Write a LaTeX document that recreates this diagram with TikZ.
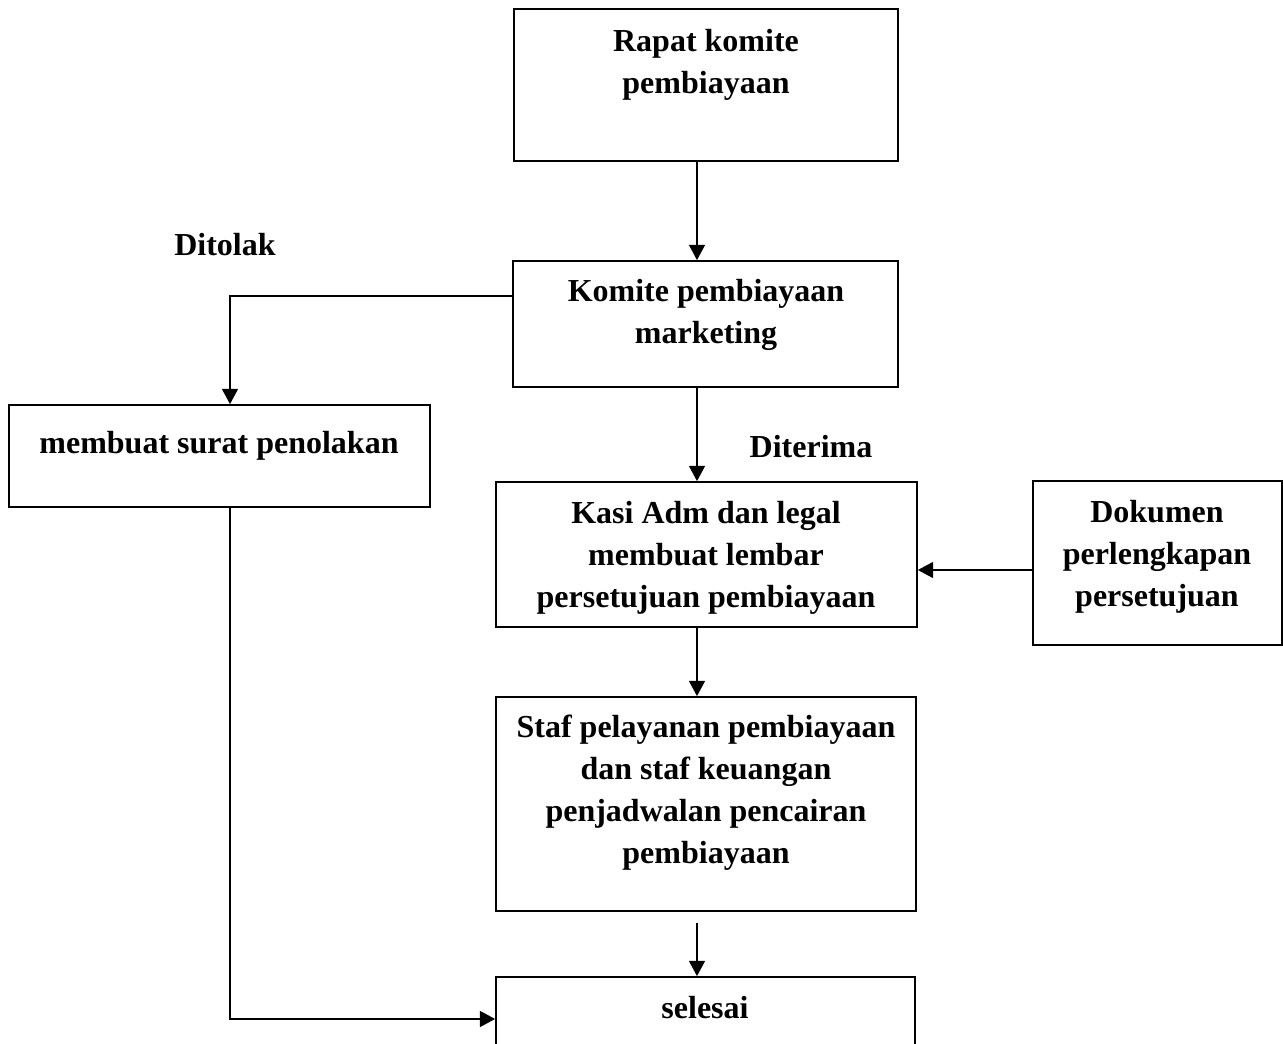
\documentclass[tikz,border=0pt]{standalone}
\usepackage{fontspec}
\setmainfont{Liberation Serif}
\usetikzlibrary{fit,arrows.meta}
\begin{document}
\begin{tikzpicture}[x=0.75pt,y=-0.75pt,
  box/.style={draw,line width=1.3pt,inner sep=0pt,rectangle},
  txt/.style={anchor=north,inner sep=0pt,align=center,
    font=\fontsize{24}{31.5}\selectfont\bfseries},
  arr/.style={line width=1.3pt,-{Triangle[length=11.5pt,width=12pt]}},
  ln/.style={line width=1.3pt}]
\useasboundingbox (0,0) rectangle (1283,1044);

% boxes
\node[box,fit={(514,9) (898,161)}] (rapat) {};
\node[box,fit={(513,261) (898,387)}] (komite) {};
\node[box,fit={(9,405) (430,507)}] (tolak) {};
\node[box,fit={(496,482) (917,627)}] (kasi) {};
\node[box,fit={(1033,481) (1282,645)}] (dok) {};
\node[box,fit={(496,697) (916,911)}] (staf) {};
\node[box,fit={(496,977) (915,1060)}] (selesai) {};

% box texts
\node[txt] (trapat) at (706,29) {Rapat komite\\pembiayaan};
\node[txt] (tkomite) at (706,279) {Komite pembiayaan\\marketing};
\node[txt] (ttolak) at (219,431) {membuat surat penolakan};
\node[txt] (tkasi) at (706,501) {Kasi Adm dan legal\\membuat lembar\\persetujuan pembiayaan};
\node[txt] (tdok) at (1157,500) {Dokumen\\perlengkapan\\persetujuan};
\node[txt] (tstaf) at (706,715) {Staf pelayanan pembiayaan\\dan staf keuangan\\penjadwalan pencairan\\pembiayaan};
\node[txt] (tselesai) at (705,996) {selesai};

% branch labels
\node[txt] (lditolak) at (225,233) {Ditolak};
\node[txt] (lditerima) at (811,435) {Diterima};

% routing guides
\coordinate (spine) at (697,0);
\coordinate (rej) at (230,296);
\coordinate (docy) at (0,570);
\coordinate (endy) at (0,1019);

% connectors
\draw[arr] (rapat.south -| spine) -- (komite.north -| spine);
\draw[arr] (komite.west |- rej) -| (tolak.north -| rej);
\draw[arr] (komite.south -| spine) -- (kasi.north -| spine);
\draw[arr] (dok.west |- docy) -- (kasi.east |- docy);
\draw[arr] (kasi.south -| spine) -- (staf.north -| spine);
\draw[arr] ([yshift=-8.25pt]staf.south -| spine) -- (selesai.north -| spine);
\draw[arr] (tolak.south -| rej) |- (selesai.west |- endy);
\end{tikzpicture}
\end{document}
